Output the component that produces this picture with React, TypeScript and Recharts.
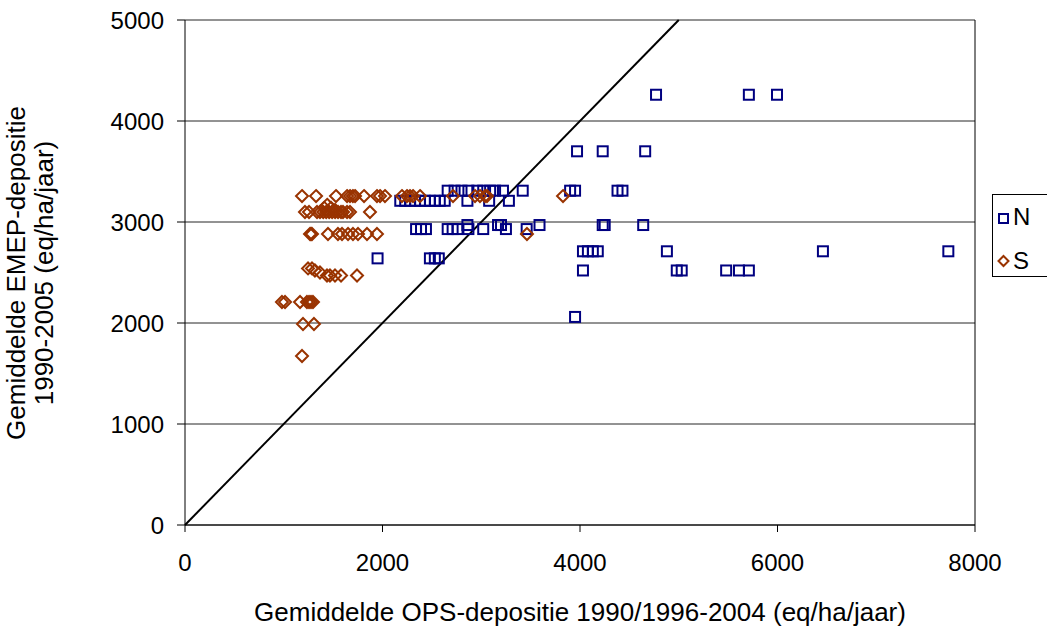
import {
  ScatterChart,
  Scatter,
  XAxis,
  YAxis,
  CartesianGrid,
  ReferenceLine,
} from 'recharts';

// N: blue squares (OPS x, EMEP y)
const N_X = [
  4770, 5710, 5995,
  3970, 4230, 4660,
  2660, 2730, 2800, 2870, 2960, 3020, 3090, 3140, 3220, 3420, 3900, 3950, 4380, 4430,
  2180, 2230, 2280, 2330, 2380, 2430, 2480, 2530, 2580, 2630, 2860, 3080, 3280,
  2860, 3170, 3200, 3590, 4230, 4250, 4640,
  2340, 2390, 2440, 2660, 2710, 2760, 2870, 3020, 3250, 3460,
  4030, 4080, 4130, 4180, 4880, 6460, 7730,
  1950, 2480, 2530, 2570,
  4030, 4980, 5030, 5480, 5610, 5710,
  3950,
];
const N_Y = [
  4260, 4260, 4260,
  3700, 3700, 3700,
  3310, 3310, 3310, 3310, 3310, 3310, 3310, 3310, 3310, 3310, 3310, 3310, 3310, 3310,
  3210, 3210, 3210, 3210, 3210, 3210, 3210, 3210, 3210, 3210, 3210, 3210, 3210,
  2970, 2970, 2970, 2970, 2970, 2970, 2970,
  2930, 2930, 2930, 2930, 2930, 2930, 2930, 2930, 2930, 2930,
  2710, 2710, 2710, 2710, 2710, 2710, 2710,
  2640, 2640, 2640, 2640,
  2520, 2520, 2520, 2520, 2520, 2520,
  2060,
];

// S: brown diamonds
const S_X = [
  1185, 1327, 1529, 1641, 1671, 1700, 1722, 1813, 1944, 1975, 2025, 2197, 2248, 2278, 2309, 2380, 2714, 2937, 2987, 3038, 3058, 3828,
  1215, 1256, 1337, 1367, 1400, 1430, 1460, 1490, 1520, 1550, 1580, 1600, 1641, 1671, 1873,
  1410, 1440, 1480, 1520,
  1266, 1276, 1286, 1448, 1549, 1590, 1651, 1701, 1752, 1843, 1944, 3463,
  1246, 1286, 1316, 1367, 1438, 1468, 1519, 1580, 1742,
  982, 1013, 1165, 1235, 1256, 1276, 1296,
  1195, 1306,
  1185,
];
const S_Y = [
  3257, 3257, 3257, 3257, 3257, 3257, 3257, 3257, 3257, 3257, 3257, 3257, 3257, 3257, 3257, 3257, 3257, 3257, 3257, 3257, 3257, 3257,
  3099, 3099, 3099, 3099, 3099, 3099, 3099, 3099, 3099, 3099, 3099, 3099, 3099, 3099, 3099,
  3140, 3170, 3140, 3120,
  2881, 2881, 2881, 2881, 2881, 2881, 2881, 2881, 2881, 2881, 2881, 2881,
  2540, 2540, 2520, 2500, 2470, 2470, 2470, 2470, 2470,
  2208, 2208, 2208, 2208, 2208, 2208, 2208,
  1990, 1990,
  1673,
];

const X_TICKS = [0, 2000, 4000, 6000, 8000];
const Y_TICKS = [0, 1000, 2000, 3000, 4000, 5000];

const N_DATA = N_X.map((x, i) => ({ x, y: N_Y[i] }));
const S_DATA = S_X.map((x, i) => ({ x, y: S_Y[i] }));

const FONT = 'Liberation Sans, Arial, sans-serif';
const N_COLOR = '#000080';
const S_COLOR = '#993300';

const Square = (p: any) => (
  <rect x={p.cx - 5} y={p.cy - 5} width={10} height={10} fill="none" stroke={N_COLOR} strokeWidth={2} />
);

const Diamond = (p: any) => (
  <path
    d={`M${p.cx},${p.cy - 6}L${p.cx + 6},${p.cy}L${p.cx},${p.cy + 6}L${p.cx - 6},${p.cy}Z`}
    fill="none"
    stroke={S_COLOR}
    strokeWidth={2}
  />
);

const LegendBox = () => (
  <div
    style={{
      position: 'absolute',
      left: 992,
      top: 194,
      width: 56,
      height: 83,
      border: '1px solid #000',
      background: '#fff',
      fontFamily: FONT,
      fontSize: 24,
      boxSizing: 'border-box',
    }}
  >
    <svg width={20} height={80} style={{ position: 'absolute', left: 0, top: 0 }}>
      <rect x={6} y={19} width={9} height={9} fill="none" stroke={N_COLOR} strokeWidth={2} />
      <path d="M10.5,61L15.5,66L10.5,71L5.5,66Z" fill="none" stroke={S_COLOR} strokeWidth={2} />
    </svg>
    <div style={{ position: 'absolute', left: 20, top: 8 }}>N</div>
    <div style={{ position: 'absolute', left: 20, top: 52 }}>S</div>
  </div>
);

export default function App() {
  return (
    <div style={{ position: 'absolute', left: 0, top: 0, width: 1047, height: 632, background: '#fff' }}>
      <ScatterChart
        width={1047}
        height={632}
        margin={{ top: 20, right: 72, bottom: 77, left: 0 }}
        style={{ fontFamily: FONT }}
      >
        <CartesianGrid horizontal vertical={false} stroke="#000" strokeOpacity={0.85} />
        <XAxis
          type="number"
          dataKey="x"
          domain={[0, 8000]}
          ticks={X_TICKS}
          height={30}
          tickSize={7}
          tickMargin={22}
          axisLine={{ stroke: '#000' }}
          tickLine={{ stroke: '#000' }}
          tick={{ fill: '#000', fontSize: 24 }}
        />
        <YAxis
          type="number"
          dataKey="y"
          domain={[0, 5000]}
          ticks={Y_TICKS}
          width={185}
          tickSize={8}
          tickMargin={13}
          axisLine={{ stroke: '#000' }}
          tickLine={{ stroke: '#000' }}
          tick={{ fill: '#000', fontSize: 24 }}
        />
        <ReferenceLine x={8000} stroke="#000" />
        <ReferenceLine
          segment={[{ x: 0, y: 0 }, { x: 5000, y: 5000 }]}
          stroke="#000"
          strokeWidth={2}
          ifOverflow="visible"
        />
        <Scatter name="N" data={N_DATA} shape={Square} isAnimationActive={false} />
        <Scatter name="S" data={S_DATA} shape={Diamond} isAnimationActive={false} />
      </ScatterChart>
      <LegendBox />
      <div
        style={{
          position: 'absolute',
          left: 0,
          top: 597,
          width: 1160,
          textAlign: 'center',
          fontFamily: FONT,
          fontSize: 26,
          whiteSpace: 'nowrap',
        }}
      >
        Gemiddelde OPS-depositie 1990/1996-2004 (eq/ha/jaar)
      </div>
      <svg width={80} height={632} style={{ position: 'absolute', left: 0, top: 0 }}>
        <text
          transform="translate(30,273) rotate(-90)"
          textAnchor="middle"
          fontFamily={FONT}
          fontSize={26}
        >
          <tspan x={0} dy={-5}>Gemiddelde EMEP-depositie</tspan>
          <tspan x={0} dy={28}>1990-2005 (eq/ha/jaar)</tspan>
        </text>
      </svg>
    </div>
  );
}
